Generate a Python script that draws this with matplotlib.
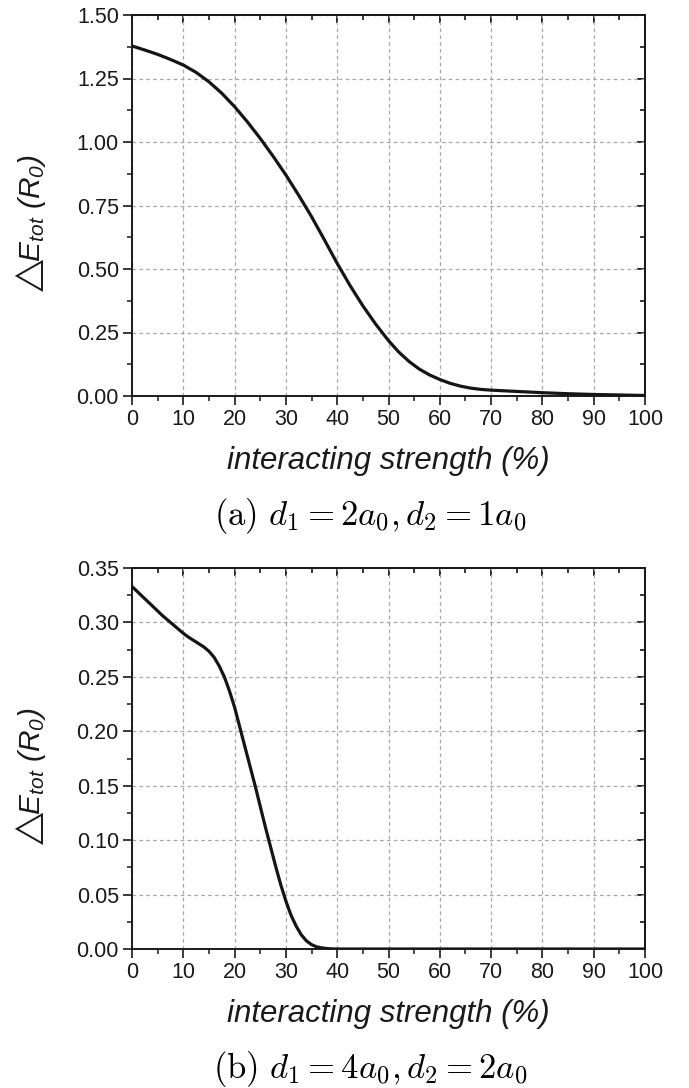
import matplotlib
matplotlib.use("Agg")
import matplotlib.pyplot as plt
from matplotlib.ticker import MultipleLocator

plt.rcParams['font.family'] = ['Liberation Sans', 'DejaVu Sans']
plt.rcParams['mathtext.fontset'] = 'custom'
plt.rcParams['mathtext.it'] = 'Liberation Sans:italic'
plt.rcParams['mathtext.rm'] = 'Liberation Sans:italic'
plt.rcParams['mathtext.bf'] = 'Liberation Sans:bold'

# ---- data ----
x_a = [0, 2.5, 5, 7.5, 10, 12.5, 15, 17.5, 20, 22.5, 25, 27.5, 30, 32.5, 35, 37.5,
       40, 42.5, 45, 47.5, 50, 52, 54, 56, 58, 60, 62, 64, 66, 68, 70, 75, 80, 85,
       90, 95, 100]
y_a = [1.378, 1.362, 1.345, 1.325, 1.303, 1.274, 1.237, 1.192, 1.139, 1.079, 1.014,
       0.944, 0.870, 0.790, 0.706, 0.615, 0.522, 0.435, 0.355, 0.283, 0.218, 0.173,
       0.136, 0.106, 0.083, 0.065, 0.050, 0.039, 0.031, 0.026, 0.023, 0.018, 0.013,
       0.009, 0.006, 0.004, 0.002]

x_b = [0, 2, 4, 6, 8, 10, 11, 12, 13, 14, 15, 16, 17, 18, 19, 20, 21, 22, 23, 24,
       25, 26, 27, 28, 29, 30, 31, 32, 33, 34, 35, 36, 37, 38, 39, 40, 50, 60, 70,
       80, 90, 100]
y_b = [0.333, 0.324, 0.315, 0.306, 0.298, 0.290, 0.2865, 0.2835, 0.2805, 0.2775,
       0.2735, 0.268, 0.260, 0.250, 0.237, 0.222, 0.204, 0.186, 0.168, 0.150, 0.131,
       0.112, 0.094, 0.076, 0.059, 0.044, 0.031, 0.021, 0.013, 0.0075, 0.004, 0.002,
       0.001, 0.0004, 0.0001, 0.0, 0.0, 0.0, 0.0, 0.0, 0.0, 0.0]

x_ticks = [0, 10, 20, 30, 40, 50, 60, 70, 80, 90, 100]
y_ticks_a = [0.00, 0.25, 0.50, 0.75, 1.00, 1.25, 1.50]
y_ticks_b = [0.00, 0.05, 0.10, 0.15, 0.20, 0.25, 0.30, 0.35]

xlabel = "interacting strength (%)"
ylabel = r"$\triangle\!\!E_{tot}\ (R_0)$"
cap_a = r"$\mathrm{(a)}\ d_1 = 2a_0, d_2 = 1a_0$"
cap_b = r"$\mathrm{(b)}\ d_1 = 4a_0, d_2 = 2a_0$"

W, H = 689, 1088
fig = plt.figure(figsize=(W / 100, H / 100), dpi=100)


def fx(px):
    return px / W


def fy(py):
    return 1 - py / H


def make_panel(top_px, bottom_px, xs, ys, yticks, ymax, yminor, cap, shift):
    ax = fig.add_axes([fx(132), fy(bottom_px), fx(645) - fx(132), fy(top_px) - fy(bottom_px)])
    ax.plot(xs, ys, color='#151515', lw=2.3, solid_capstyle='round',
            solid_joinstyle='round', zorder=3)
    ax.set_xlim(0, 100)
    ax.set_ylim(0, ymax)
    ax.set_xticks(x_ticks)
    ax.set_yticks(yticks)
    ax.xaxis.set_minor_locator(MultipleLocator(5))
    ax.yaxis.set_minor_locator(MultipleLocator(yminor))
    ax.set_xticklabels([str(v) for v in x_ticks])
    ax.set_yticklabels([f"{v:.2f}" for v in yticks])
    ax.grid(True, which='major', color='#a8a8a8', ls=(0, (3, 2.5)), lw=0.9)
    for s in ax.spines.values():
        s.set_linewidth(1.4)
        s.set_color('#1a1a1a')
    ax.tick_params(which='major', direction='out', length=6.5, width=1.2,
                   labelsize=15.5, pad=3, colors='#1a1a1a')
    ax.tick_params(which='minor', direction='out', length=3.8, width=1.1, colors='#1a1a1a')
    # mirrored inward ticks on top/right
    sx = ax.secondary_xaxis('top')
    sx.set_xticks(x_ticks)
    sx.xaxis.set_minor_locator(MultipleLocator(5))
    sx.tick_params(which='major', direction='in', length=6, width=1.2, labeltop=False)
    sx.tick_params(which='minor', direction='in', length=3.5, width=1.1)
    sx.spines['top'].set_linewidth(1.4)
    sy = ax.secondary_yaxis('right')
    sy.set_yticks(yticks)
    sy.yaxis.set_minor_locator(MultipleLocator(yminor))
    sy.tick_params(which='major', direction='in', length=6, width=1.2, labelright=False)
    sy.tick_params(which='minor', direction='in', length=3.5, width=1.1)
    sy.spines['right'].set_linewidth(1.4)

    fig.text(fx(388), fy(461 + shift), xlabel, ha='center', va='center',
             fontsize=22.5, style='italic', family='Liberation Sans', color='#1a1a1a')
    fig.text(fx(31), fy(226 + shift), ylabel, ha='center', va='center',
             rotation=90, fontsize=21.5, color='#1a1a1a')
    fig.text(fx(370), fy(516 + shift), cap, ha='center', va='center',
             fontsize=25, math_fontfamily='cm', color='black')
    return ax


make_panel(15, 396, x_a, y_a, y_ticks_a, 1.5, 0.125, cap_a, 0)
make_panel(568, 949, x_b, y_b, y_ticks_b, 0.35, 0.025, cap_b, 553)

fig.savefig("out.png", dpi=100)
